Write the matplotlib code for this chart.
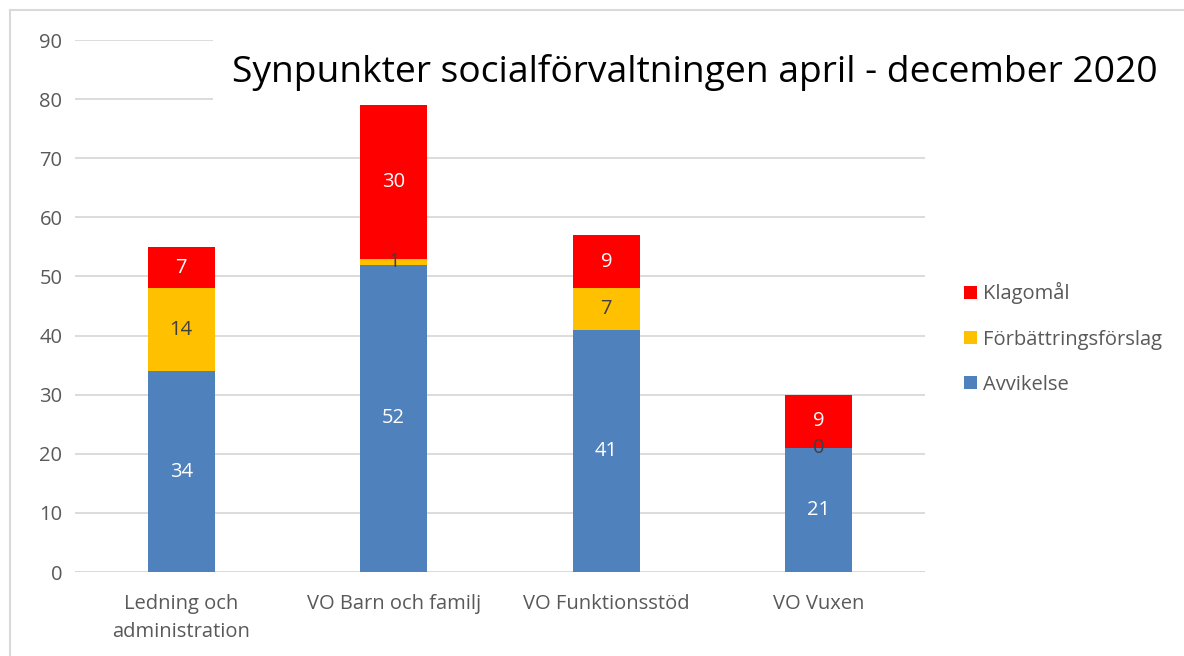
import matplotlib.pyplot as plt
from matplotlib.lines import Line2D
import numpy as np

plt.rcParams['font.family'] = ['Open Sans', 'DejaVu Sans']

categories = ['Ledning och\nadministration', 'VO Barn och familj', 'VO Funktionsstöd', 'VO Vuxen']
avvikelse = [34, 52, 41, 21]
forbattring = [14, 1, 7, 0]
klagomal = [7, 26, 9, 9]            # bar heights as drawn
klagomal_labels = ['7', '30', '9', '9']   # labels as printed on the chart

blue = '#4F81BD'
orange = '#FFC000'
red = '#FF0000'
grey = '#595959'

fig = plt.figure(figsize=(11.84, 6.56), dpi=100)
ax = fig.add_axes([0.0633, 0.128, 0.718, 0.811])

x = np.arange(len(categories))
w = 0.315
b1 = ax.bar(x, avvikelse, w, color=blue, label='Avvikelse', zorder=2)
b2 = ax.bar(x, forbattring, w, bottom=avvikelse, color=orange, label='Förbättringsförslag', zorder=2)
bottom3 = np.array(avvikelse) + np.array(forbattring)
b3 = ax.bar(x, klagomal, w, bottom=bottom3, color=red, label='Klagomål', zorder=2)

ax.bar_label(b1, labels=[str(v) for v in avvikelse], label_type='center', color='white', fontsize=14.5)
ax.bar_label(b2, labels=[str(v) for v in forbattring], label_type='center', color='#404040', fontsize=14.5)
ax.bar_label(b3, labels=klagomal_labels, label_type='center', color='white', fontsize=14.5)

ax.set_xlim(-0.5, len(categories) - 0.5)
ax.set_ylim(0, 90)
ax.set_yticks(range(0, 91, 10))
ax.yaxis.grid(True, color='#D9D9D9', linewidth=1.3, zorder=0)
ax.set_axisbelow(True)
for s in ax.spines.values():
    s.set_visible(False)
ax.tick_params(axis='both', length=0, colors=grey, labelsize=14.5)
ax.tick_params(axis='y', pad=9)
ax.tick_params(axis='x', pad=16)
ax.set_xticks(x)
ax.set_xticklabels(categories, linespacing=1.5)
ax.axhline(0, color='#D9D9D9', linewidth=1.3, zorder=1)

# title sits over the gridlines but under the bars
ax.text(0.196, 0.89, 'Synpunkter socialförvaltningen april - december 2020',
        transform=fig.transFigure, fontsize=26.8, color='black', ha='left', va='center',
        zorder=1, clip_on=False,
        bbox=dict(facecolor='white', edgecolor='none', pad=14))

handles = [b3, b2, b1]
fig.legend(handles, [h.get_label() for h in handles], loc='center left',
           bbox_to_anchor=(0.799, 0.484), frameon=False, fontsize=14.5,
           labelcolor=grey, handlelength=0.65, handleheight=0.65,
           handletextpad=0.3, labelspacing=1.25)

# chart frame (top and left edge visible)
fig.add_artist(Line2D([0.0085, 1.0], [0.984, 0.984], color='#D9D9D9', linewidth=1.5))
fig.add_artist(Line2D([0.0085, 0.0085], [0.0, 0.984], color='#D9D9D9', linewidth=1.5))

fig.savefig('out.png', dpi=100)
